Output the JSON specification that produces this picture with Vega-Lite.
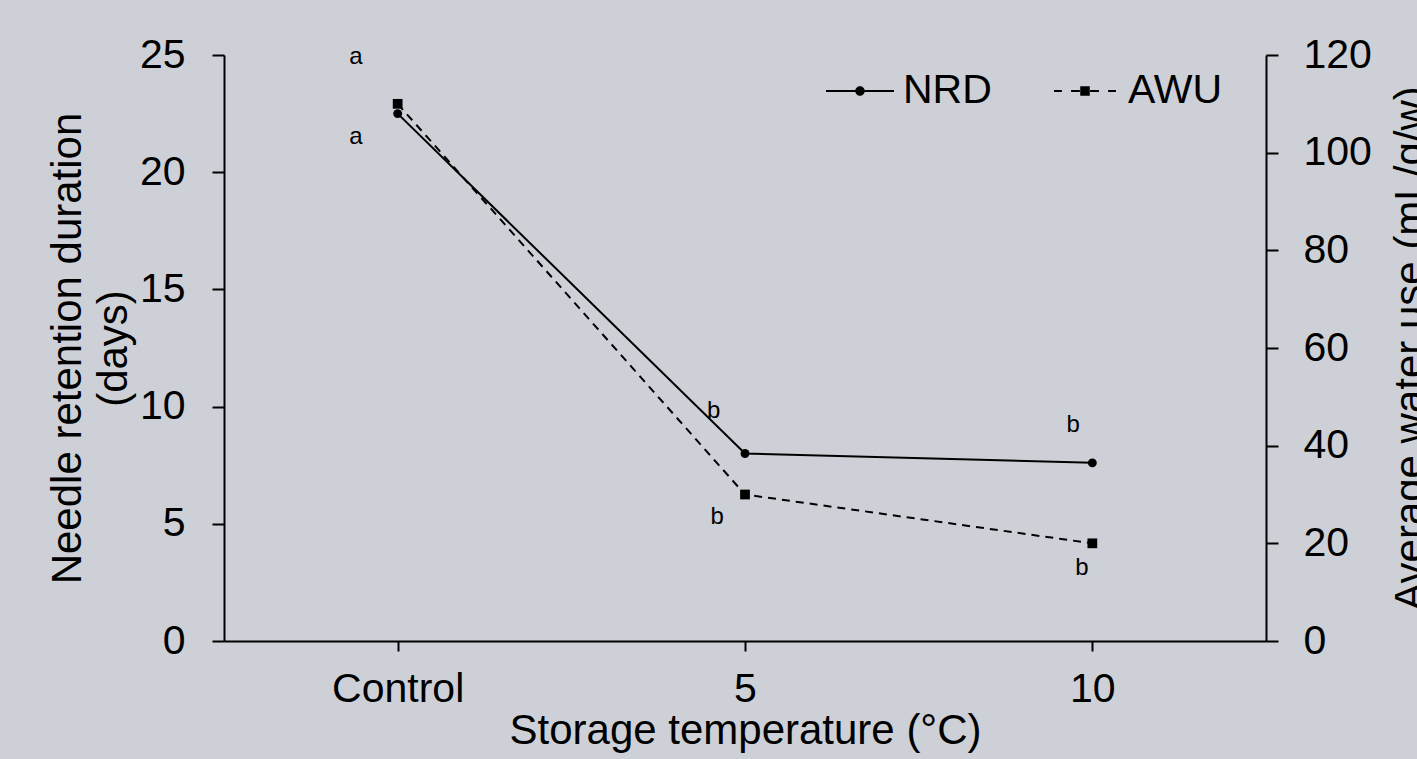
{
  "$schema": "https://vega.github.io/schema/vega-lite/v6.json",
  "width": 1042,
  "height": 586,
  "autosize": {"type": "none"},
  "padding": {"left": 224, "top": 55, "right": 151, "bottom": 118},
  "background": "#cdd0d6",
  "config": {
    "view": {"stroke": null},
    "font": "Liberation Sans",
    "axis": {
      "domainColor": "black", "domainWidth": 2,
      "tickColor": "black", "tickWidth": 2, "tickSize": 12,
      "labelColor": "black", "titleColor": "black",
      "labelFont": "Liberation Sans", "titleFont": "Liberation Sans",
      "labelFontSize": 41, "titleFontSize": 42, "titleFontWeight": "normal",
      "grid": false
    }
  },
  "datasets": {
    "series": [
      {"temp": "Control", "t": 0, "nrd": 22.5, "awu": 110},
      {"temp": "5", "t": 1, "nrd": 8.0, "awu": 30},
      {"temp": "10", "t": 2, "nrd": 7.6, "awu": 20}
    ],
    "letters": [
      {"letter": "a", "t": -0.12, "pos": 24.9},
      {"letter": "a", "t": -0.12, "pos": 21.5},
      {"letter": "b", "t": 0.91, "pos": 9.8},
      {"letter": "b", "t": 0.92, "pos": 5.3},
      {"letter": "b", "t": 1.945, "pos": 9.2},
      {"letter": "b", "t": 1.97, "pos": 3.1}
    ]
  },
  "encoding": {
    "x": {
      "field": "t", "type": "quantitative",
      "scale": {"domain": [-0.5, 2.5], "nice": false, "zero": false},
      "axis": {
        "values": [0, 1, 2],
        "labelExpr": "datum.value === 0 ? 'Control' : datum.value === 1 ? '5' : '10'",
        "tickSize": 10, "labelPadding": 18,
        "title": "Storage temperature (°C)", "titleY": 69, "titleBaseline": "top"
      }
    }
  },
  "layer": [
    {
      "layer": [
        {
          "data": {"name": "series"},
          "mark": {"type": "line", "color": "black", "strokeWidth": 2},
          "encoding": {
            "y": {
              "field": "nrd", "type": "quantitative",
              "scale": {"domain": [0, 25], "nice": false},
              "axis": {
                "orient": "left", "values": [0, 5, 10, 15, 20, 25], "labelPadding": 27,
                "title": ["Needle retention duration", "(days)"],
                "titleLineHeight": 46, "titleAngle": -90, "titleBaseline": "bottom",
                "titleX": -135, "titleY": 293, "titleAlign": "center"
              }
            }
          }
        },
        {
          "data": {"name": "series"},
          "mark": {"type": "circle", "color": "black", "size": 80, "opacity": 1},
          "encoding": {
            "y": {"field": "nrd", "type": "quantitative", "scale": {"domain": [0, 25], "nice": false}}
          }
        },
        {
          "data": {"name": "series"},
          "mark": {"type": "point", "filled": true, "fill": "black", "stroke": "black", "strokeWidth": 2, "size": 80, "opacity": 0},
          "encoding": {
            "y": {"field": "nrd", "type": "quantitative", "scale": {"domain": [0, 25], "nice": false}},
            "shape": {
              "datum": "NRD",
              "scale": {"domain": ["NRD", "AWU"], "range": ["M-1,-0.03H-0.14V0.03H-1ZM0.14,-0.03H1V0.03H0.14ZM0.14,0A0.14,0.14,0,1,1,-0.14,0A0.14,0.14,0,1,1,0.14,0Z", "M-0.91,-0.03H-0.68V0.03H-0.91ZM-0.41,-0.03H-0.15V0.03H-0.41ZM0.15,-0.03H0.41V0.03H0.15ZM0.68,-0.03H0.91V0.03H0.68ZM-0.14,-0.14H0.14V0.14H-0.14Z"]},
              "legend": {
                "orient": "none", "legendX": 601, "legendY": 1, "direction": "horizontal",
                "title": null, "padding": 0,
                "labelFontSize": 41, "labelColor": "black", "labelFont": "Liberation Sans",
                "labelOffset": 8, "columnPadding": 58,
                "symbolSize": 4624, "symbolStrokeWidth": 2,
                "symbolFillColor": "black", "symbolStrokeColor": "black"
              }
            }
          }
        },
        {
          "data": {"name": "letters"},
          "mark": {"type": "text", "fontSize": 24, "color": "black", "font": "Liberation Sans", "baseline": "middle"},
          "encoding": {
            "y": {"field": "pos", "type": "quantitative", "scale": {"domain": [0, 25], "nice": false}},
            "text": {"field": "letter"}
          }
        }
      ]
    },
    {
      "data": {"name": "series"},
      "layer": [
        {
          "mark": {"type": "line", "color": "black", "strokeWidth": 2, "strokeDash": [8, 6]},
          "encoding": {
            "y": {
              "field": "awu", "type": "quantitative",
              "scale": {"domain": [0, 120], "nice": false},
              "axis": {
                "orient": "right", "values": [0, 20, 40, 60, 80, 100, 120], "labelPadding": 25,
                "title": "Average water use (mL/g/w)",
                "titleAngle": -90, "titleBaseline": "top", "titleAlign": "center",
                "titleX": 124, "titleY": 293
              }
            }
          }
        },
        {
          "mark": {"type": "square", "color": "black", "size": 95, "opacity": 1},
          "encoding": {
            "y": {"field": "awu", "type": "quantitative", "scale": {"domain": [0, 120], "nice": false}}
          }
        },
        {
          "mark": {"type": "point", "filled": true, "fill": "black", "stroke": "black", "strokeWidth": 2, "size": 95, "opacity": 0},
          "encoding": {
            "y": {"field": "awu", "type": "quantitative", "scale": {"domain": [0, 120], "nice": false}},
            "shape": {"datum": "AWU"}
          }
        }
      ]
    }
  ],
  "resolve": {"scale": {"y": "independent"}}
}
